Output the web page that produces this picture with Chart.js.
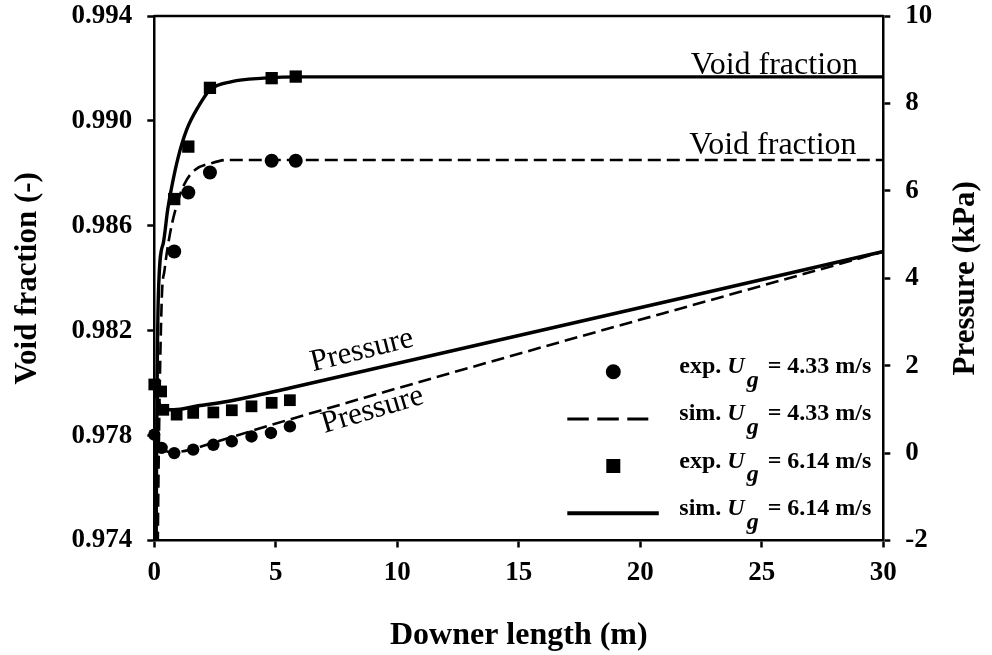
<!DOCTYPE html>
<html><head><meta charset="utf-8">
<script src="https://cdn.jsdelivr.net/npm/chart.js@4.4.0/dist/chart.umd.min.js"></script>
<style>html,body{margin:0;padding:0;background:#fff;}#wrap{width:992px;height:655px;}</style>
</head><body><div id="wrap"><canvas id="c" width="992" height="655"></canvas></div>
<script>
// ---------- data ----------
const xTicks = [0, 5, 10, 15, 20, 25, 30];
const voidTicks = [0.974, 0.978, 0.982, 0.986, 0.990, 0.994];
const pressTicks = [-2, 0, 2, 4, 6, 8, 10];

const ugLabels = ['4.33', '6.14'];

const expVoidX_433 = [0.82, 1.40, 2.29, 4.83, 5.82];
const expVoid_433  = [0.98502, 0.98727, 0.98803, 0.98848, 0.98848];
const expVoidX_614 = [0.82, 1.40, 2.29, 4.83, 5.82];
const expVoid_614  = [0.98702, 0.98902, 0.99126, 0.99163, 0.99169];

const expPresX_433 = [0, 0.30, 0.82, 1.60, 2.43, 3.19, 4.00, 4.80, 5.58];
const expPres_433  = [0.42, 0.12, 0.00, 0.08, 0.19, 0.27, 0.38, 0.46, 0.61];
const expPresX_614 = [0, 0.28, 0.37, 0.92, 1.60, 2.43, 3.19, 4.00, 4.83, 5.58];
const expPres_614  = [1.57, 1.41, 0.99, 0.88, 0.92, 0.93, 0.98, 1.07, 1.15, 1.21];

const simVoidX_433 = [0, 0.15, 0.30, 0.42, 0.65, 0.99, 1.26, 1.67, 2.36, 2.98, 4.0, 30];
const simVoid_433  = [0.955, 0.9745, 0.9830, 0.9843, 0.98572, 0.98699, 0.98763, 0.98813, 0.98839, 0.98851, 0.98851, 0.98851];
const simVoidX_614 = [0, 0.08, 0.17, 0.37, 0.55, 0.72, 0.99, 1.33, 1.81, 2.29, 3.19, 4.5, 6.0, 30];
const simVoid_614  = [0.950, 0.9745, 0.98344, 0.98534, 0.98661, 0.98750, 0.98864, 0.98966, 0.99054, 0.99118, 0.99150, 0.99163, 0.99168, 0.99168];

const simPresX_433 = [0, 0.15, 0.40, 0.80, 1.50, 2.50, 5.58, 30];
const simPres_433  = [0.45, 0.20, 0.06, 0.02, 0.08, 0.25, 0.77, 4.61];
const simPresX_614 = [0, 0.15, 0.35, 0.80, 1.80, 3.00, 5.58, 30];
const simPres_614  = [1.60, 1.20, 1.02, 0.99, 1.08, 1.18, 1.49, 4.61];

// ---------- chart ----------
const SERIF = '"Liberation Serif", "Times New Roman", serif';
const toPts = (xs, ys) => xs.map((x, i) => ({x: x, y: ys[i]}));

function expSet(label, xs, ys, axis, style, r) {
  return {label, data: toPts(xs, ys), yAxisID: axis, showLine: false, pointStyle: style,
    pointRadius: r, pointHoverRadius: r, backgroundColor: '#000', borderColor: '#000',
    pointBorderWidth: 0, clip: false};
}
function simSet(label, xs, ys, axis, dash, w) {
  return {label, data: toPts(xs, ys), yAxisID: axis, showLine: true, pointRadius: 0,
    borderColor: '#000', backgroundColor: '#000', borderWidth: w, borderDash: dash,
    cubicInterpolationMode: 'monotone', fill: false};
}

const overlay = {
  id: 'overlay',
  afterDatasetsDraw(chart) {
    const {ctx, chartArea: ca, scales} = chart;
    const xs = scales.x, yv = scales.y, yp = scales.y2;
    ctx.save();
    ctx.fillStyle = '#000';
    ctx.strokeStyle = '#000';
    // top frame line
    ctx.lineWidth = 2.5;
    ctx.beginPath(); ctx.moveTo(ca.left, ca.top); ctx.lineTo(ca.right, ca.top); ctx.stroke();
    // curve annotations
    ctx.font = '32px ' + SERIF;
    ctx.textAlign = 'right';
    ctx.textBaseline = 'alphabetic';
    ctx.fillText('Void fraction', xs.getPixelForValue(28.96), yv.getPixelForValue(simVoid_614[simVoid_614.length - 1]) - 3);
    ctx.fillText('Void fraction', xs.getPixelForValue(28.90), yv.getPixelForValue(simVoid_433[simVoid_433.length - 1]) - 6);
    ctx.font = '31px ' + SERIF;
    ctx.textAlign = 'left';
    [[6.53, 1.87, -14], [7.0, 0.46, -16.5]].forEach(([dx, dp, ang]) => {
      ctx.save();
      ctx.translate(xs.getPixelForValue(dx), yp.getPixelForValue(dp));
      ctx.rotate(ang * Math.PI / 180);
      ctx.fillText('Pressure', 0, 0);
      ctx.restore();
    });
    // legend
    const mx = ca.right - 270, lx0 = ca.right - 204;
    const rows = [
      {kind: 'circle', pre: 'exp.', ug: ugLabels[0], my: 371.7, by: 373.3},
      {kind: 'dash',   pre: 'sim.', ug: ugLabels[0], my: 419,   by: 420},
      {kind: 'rect',   pre: 'exp.', ug: ugLabels[1], my: 466,   by: 467.7},
      {kind: 'solid',  pre: 'sim.', ug: ugLabels[1], my: 513.3, by: 515}
    ];
    const fB = 'bold 24px ' + SERIF, fI = 'italic bold 24px ' + SERIF;
    rows.forEach(r => {
      if (r.kind === 'circle') {
        ctx.beginPath(); ctx.arc(mx, r.my, 7.5, 0, Math.PI * 2); ctx.fill();
      } else if (r.kind === 'rect') {
        ctx.fillRect(mx - 7, r.my - 7, 14, 14);
      } else {
        ctx.beginPath();
        ctx.lineWidth = r.kind === 'dash' ? 3 : 4;
        ctx.setLineDash(r.kind === 'dash' ? [21.5, 8.5] : []);
        ctx.moveTo(mx - 46, r.my);
        ctx.lineTo(r.kind === 'dash' ? mx + 35 : mx + 45.5, r.my);
        ctx.stroke();
        ctx.setLineDash([]);
      }
      ctx.textAlign = 'left'; ctx.textBaseline = 'alphabetic';
      ctx.font = fB;
      const pre = r.pre + ' ';
      ctx.fillText(pre, lx0, r.by);
      let cx = lx0 + ctx.measureText(pre).width;
      ctx.font = fI;
      ctx.fillText('U', cx, r.by);
      cx += ctx.measureText('U').width + 2;
      ctx.fillText('g', cx, r.by + 13.5);
      cx += ctx.measureText('g').width + 9;
      ctx.font = fB;
      ctx.fillText('= ' + r.ug + ' m/s', cx, r.by);
    });
    ctx.restore();
  },
  afterDraw(chart) {
    const {ctx, chartArea: ca} = chart;
    ctx.save();
    ctx.fillStyle = '#000';
    ctx.font = 'bold 31px ' + SERIF;
    ctx.textAlign = 'center'; ctx.textBaseline = 'middle';
    ctx.translate(ca.right + 83, (ca.top + ca.bottom) / 2);
    ctx.rotate(-Math.PI / 2);
    ctx.fillText('Pressure (kPa)', 0, 0);
    ctx.restore();
  }
};

const tickFont = {family: SERIF, size: 27, weight: 'bold'};
const gridOpts = {drawOnChartArea: false, drawTicks: true, tickLength: 7, tickWidth: 2.5, tickColor: '#000'};
const borderOpts = {display: true, color: '#000', width: 2.5};

function fitV(w) { return s => { s.width = w; s.paddingTop = 0; s.paddingBottom = 0; }; }

new Chart(document.getElementById('c'), {
  type: 'scatter',
  data: {datasets: [
    expSet('exp. Ug = 4.33 m/s (void)', expVoidX_433, expVoid_433, 'y', 'circle', 7),
    expSet('exp. Ug = 6.14 m/s (void)', expVoidX_614, expVoid_614, 'y', 'rect', 8.7),
    expSet('exp. Ug = 4.33 m/s (pressure)', expPresX_433, expPres_433, 'y2', 'circle', 6.2),
    expSet('exp. Ug = 6.14 m/s (pressure)', expPresX_614, expPres_614, 'y2', 'rect', 8.3),
    simSet('sim. Ug = 4.33 m/s (void)', simVoidX_433, simVoid_433, 'y', [13, 6], 2.6),
    simSet('sim. Ug = 6.14 m/s (void)', simVoidX_614, simVoid_614, 'y', [], 3.4),
    simSet('sim. Ug = 4.33 m/s (pressure)', simPresX_433, simPres_433, 'y2', [13, 6], 2.6),
    simSet('sim. Ug = 6.14 m/s (pressure)', simPresX_614, simPres_614, 'y2', [], 3.6)
  ]},
  options: {
    responsive: false, animation: false, devicePixelRatio: 1,
    layout: {padding: {top: 16, left: 0, right: 0, bottom: 0}},
    plugins: {legend: {display: false}, tooltip: {enabled: false}, title: {display: false}},
    scales: {
      x: {
        type: 'linear', position: 'bottom', min: 0, max: 30,
        afterBuildTicks: s => { s.ticks = xTicks.map(v => ({value: v})); },
        afterFit: s => { s.height = 114.5; s.paddingLeft = 0; s.paddingRight = 0; },
        grid: gridOpts, border: borderOpts,
        ticks: {color: '#000', font: tickFont, padding: 9, maxRotation: 0, autoSkip: false, callback: v => String(v)},
        title: {display: true, text: 'Downer length (m)', color: '#000', font: {family: SERIF, size: 32, weight: 'bold'}, padding: {top: 0, bottom: 0}}
      },
      y: {
        type: 'linear', position: 'left', min: 0.974, max: 0.994,
        afterBuildTicks: s => { s.ticks = voidTicks.map(v => ({value: v})); },
        afterFit: fitV(154.3),
        grid: gridOpts, border: borderOpts,
        ticks: {color: '#000', font: tickFont, padding: 15, autoSkip: false, callback: v => v.toFixed(3)},
        title: {display: true, text: 'Void fraction (-)', color: '#000', font: {family: SERIF, size: 31, weight: 'bold'}, padding: {top: 9, bottom: 0}}
      },
      y2: {
        type: 'linear', position: 'right', min: -2, max: 10,
        afterBuildTicks: s => { s.ticks = pressTicks.map(v => ({value: v})); },
        afterFit: fitV(108.7),
        grid: gridOpts, border: borderOpts,
        ticks: {color: '#000', font: tickFont, padding: 15, autoSkip: false, callback: v => String(v)}
      }
    }
  },
  plugins: [overlay]
});
</script>
</body></html>
